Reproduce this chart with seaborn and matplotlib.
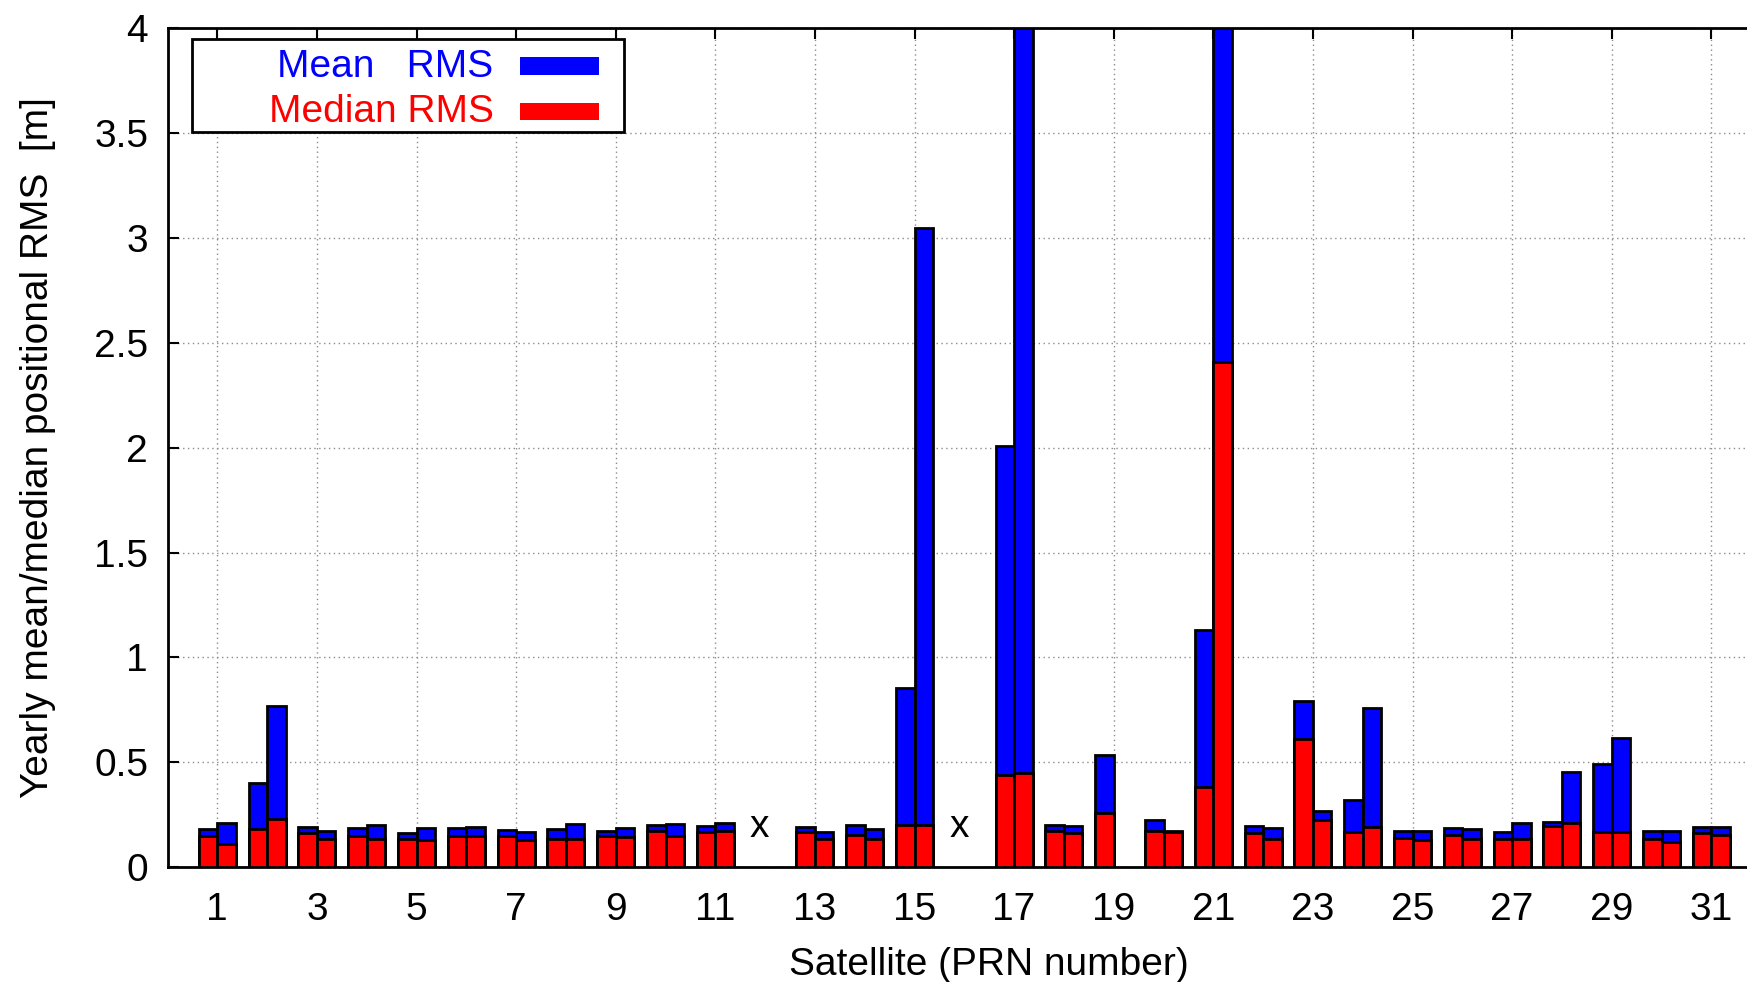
import numpy as np
import pandas as pd
import matplotlib
matplotlib.use("Agg")
import matplotlib.pyplot as plt
from matplotlib.patches import Rectangle
import seaborn as sns

# ---- data -------------------------------------------------------------
prn = list(range(1, 32))
nan = np.nan
# first bar of each satellite
mean_first = [0.18, 0.40, 0.19, 0.185, 0.16, 0.185, 0.175, 0.18, 0.17, 0.20,
              0.195, nan, 0.19, 0.20, 0.855, nan, 2.01, 0.20, 0.535, 0.225,
              1.13, 0.195, 0.79, 0.32, 0.17, 0.185, 0.165, 0.215, 0.49, 0.17, 0.19]
median_first = [0.15, 0.18, 0.16, 0.15, 0.135, 0.15, 0.15, 0.135, 0.15, 0.17,
                0.165, nan, 0.165, 0.155, 0.20, nan, 0.44, 0.17, 0.26, 0.17,
                0.38, 0.16, 0.61, 0.165, 0.14, 0.155, 0.135, 0.195, 0.165, 0.135, 0.16]
# second bar of each satellite
mean_second = [0.21, 0.77, 0.17, 0.20, 0.185, 0.19, 0.165, 0.205, 0.185, 0.205,
               0.21, nan, 0.165, 0.18, 3.05, nan, 4.8, 0.195, nan, 0.17,
               4.6, 0.185, 0.265, 0.76, 0.17, 0.18, 0.21, 0.455, 0.615, 0.17, 0.19]
median_second = [0.11, 0.23, 0.135, 0.135, 0.13, 0.15, 0.13, 0.135, 0.145, 0.15,
                 0.17, nan, 0.135, 0.135, 0.20, nan, 0.45, 0.16, nan, 0.165,
                 2.41, 0.135, 0.225, 0.19, 0.13, 0.135, 0.135, 0.21, 0.165, 0.12, 0.155]
no_data_prn = [12, 16]
no_data_mark_level = 0.19

periods = ["Year 1", "Year 2"]
x_ticks = list(range(1, 32, 2))
y_ticks = [0, 0.5, 1, 1.5, 2, 2.5, 3, 3.5, 4]
legend_labels = ["Mean   RMS", "Median RMS"]
legend_colors = ["#0000ff", "#ff0000"]

df = pd.concat([
    pd.DataFrame({"prn": prn, "period": periods[0],
                  "mean": mean_first, "median": median_first}),
    pd.DataFrame({"prn": prn, "period": periods[1],
                  "mean": mean_second, "median": median_second}),
], ignore_index=True)

# ---- style -------------------------------------------------------------
sns.set_theme(style="ticks")
plt.rcParams["font.family"] = ["Liberation Sans", "DejaVu Sans"]
FS = 28

fig = plt.figure(figsize=(17.47, 9.82), dpi=100)
ax = fig.add_axes([0.09588, 0.1171, 0.9407, 0.8539])

common = dict(x="prn", hue="period", hue_order=periods, native_scale=True,
              width=0.74, dodge=True, errorbar=None, edgecolor="black",
              linewidth=2.0, saturation=1, legend=False, ax=ax)
df_mean = df.dropna(subset=["mean"])
df_median = df.dropna(subset=["median"])
sns.barplot(data=df_mean, y="mean",
            palette={p: legend_colors[0] for p in periods}, zorder=2, **common)
sns.barplot(data=df_median, y="median",
            palette={p: legend_colors[1] for p in periods}, zorder=3, **common)

# satellites without data: a small "x" just left of the slot centre
for p in no_data_prn:
    ax.text(p - 0.11, no_data_mark_level, "x", ha="center", va="center",
            fontsize=FS, color="black", zorder=4)

# ---- axes --------------------------------------------------------------
ax.set_xlim(0, 33)
ax.set_ylim(0, 4)
ax.set_xticks(x_ticks)
ax.set_xticklabels([str(t) for t in x_ticks])
ax.set_yticks(y_ticks)
ax.set_yticklabels([f"{t:g}" for t in y_ticks])
ax.tick_params(axis="both", which="major", direction="in", length=8,
               width=1.5, labelsize=FS, pad=14, top=True, right=True,
               colors="black")
ax.tick_params(axis="x", pad=18)
ax.grid(True, which="major", linestyle=(0, (1, 2.5)), color="#8c8c8c",
        linewidth=1.0)
ax.set_axisbelow(True)
for s in ax.spines.values():
    s.set_color("black")
    s.set_linewidth(2.0)

ax.set_xlabel("Satellite (PRN number)", fontsize=FS, color="black")
ax.set_ylabel("Yearly mean/median positional RMS  [m]", fontsize=FS,
              color="black")
ax.xaxis.set_label_coords(0.5, -0.095)
ax.yaxis.set_label_coords(-0.068, 0.5)

# ---- key box -----------------------------------------------------------
tr = ax.transAxes
ax.add_patch(Rectangle((0.0147, 0.8771), 0.2631, 0.1104, transform=tr,
                       facecolor="white", edgecolor="black", linewidth=2.0,
                       zorder=10, clip_on=False))
row_y = [0.9545, 0.9000]
for lab, col, yy in zip(legend_labels, legend_colors, row_y):
    ax.text(0.1984, yy, lab, transform=tr, ha="right", va="center",
            fontsize=FS, color=col, zorder=11)
    ax.add_patch(Rectangle((0.2145, yy - 0.0095), 0.0481, 0.021, transform=tr,
                           facecolor=col, edgecolor="none", zorder=11,
                           clip_on=False))

fig.savefig("out.png", dpi=100)
